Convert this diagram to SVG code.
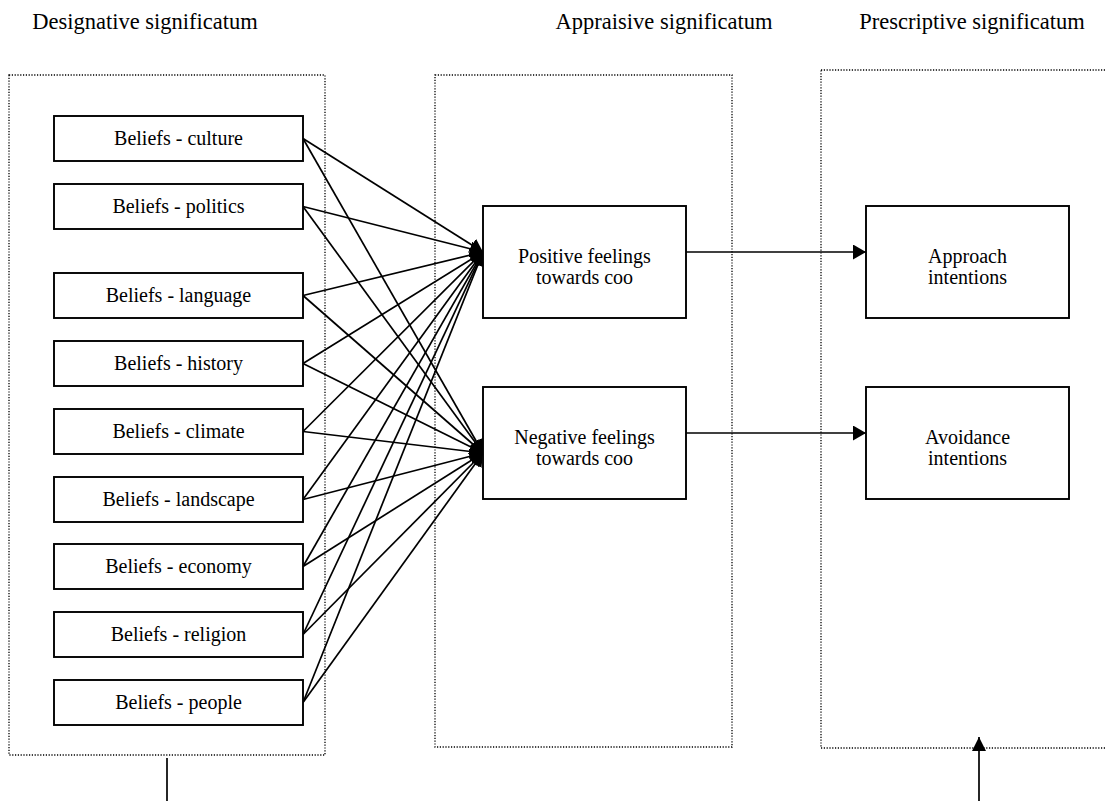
<svg xmlns="http://www.w3.org/2000/svg" width="1105" height="801" viewBox="0 0 1105 801">
  <style>
    text { font-family: "Liberation Serif", "Times New Roman", serif; fill: #000; text-anchor: middle; }
    .title { font-size: 22.5px; }
    .label { font-size: 20px; }
    .node rect { fill: #fff; stroke: #000; stroke-width: 1.9; }
    .zone { fill: none; stroke: #000; stroke-width: 1.3; stroke-dasharray: 1.2 1.6; }
    .link { stroke: #000; stroke-width: 1.7; fill: none; marker-end: url(#head); }
    .plain { stroke: #000; stroke-width: 1.7; fill: none; }
  </style>
  <defs>
    <marker id="head" markerUnits="userSpaceOnUse" markerWidth="14" markerHeight="15" refX="13" refY="7.5" orient="auto">
      <path d="M0,0 L13,7.5 L0,15 z" fill="#000"/>
    </marker>
    <marker id="headUp" markerUnits="userSpaceOnUse" markerWidth="15" markerHeight="15" refX="14" refY="7" orient="auto">
      <path d="M0,0 L14,7 L0,14 z" fill="#000"/>
    </marker>
  </defs>

  <rect width="1105" height="801" fill="#fff"/>

  <!-- column headings -->
  <g id="headings">
    <text class="title" x="145" y="29">Designative significatum</text>
    <text class="title" x="664" y="29">Appraisive significatum</text>
    <text class="title" x="972" y="29">Prescriptive significatum</text>
  </g>

  <!-- dotted column frames -->
  <g id="frames">
    <rect class="zone" x="9" y="75" width="316" height="680"/>
    <rect class="zone" x="435" y="75" width="297" height="672"/>
    <rect class="zone" x="821" y="70" width="300" height="678"/>
  </g>

  <!-- connectors -->
  <g id="connectors">
    <!-- beliefs to positive feelings -->
    <line class="link" x1="303" y1="138.5" x2="483" y2="252"/>
    <line class="link" x1="303" y1="206.5" x2="483" y2="252"/>
    <line class="link" x1="303" y1="295.5" x2="483" y2="252"/>
    <line class="link" x1="303" y1="363.5" x2="483" y2="252"/>
    <line class="link" x1="303" y1="431.5" x2="483" y2="252"/>
    <line class="link" x1="303" y1="499.5" x2="483" y2="252"/>
    <line class="link" x1="303" y1="566.5" x2="483" y2="252"/>
    <line class="link" x1="303" y1="634.5" x2="483" y2="252"/>
    <line class="link" x1="303" y1="702.5" x2="483" y2="252"/>
    <!-- beliefs to negative feelings -->
    <line class="link" x1="303" y1="138.5" x2="483" y2="453"/>
    <line class="link" x1="303" y1="206.5" x2="483" y2="453"/>
    <line class="link" x1="303" y1="295.5" x2="483" y2="453"/>
    <line class="link" x1="303" y1="363.5" x2="483" y2="453"/>
    <line class="link" x1="303" y1="431.5" x2="483" y2="453"/>
    <line class="link" x1="303" y1="499.5" x2="483" y2="453"/>
    <line class="link" x1="303" y1="566.5" x2="483" y2="453"/>
    <line class="link" x1="303" y1="634.5" x2="483" y2="453"/>
    <line class="link" x1="303" y1="702.5" x2="483" y2="453"/>
    <!-- feelings to intentions -->
    <line class="link" x1="686" y1="252" x2="866" y2="252"/>
    <line class="link" x1="686" y1="433" x2="866" y2="433"/>
    <!-- lines below the frames -->
    <line class="plain" x1="167" y1="758" x2="167" y2="801"/>
    <line class="link" x1="979" y1="801" x2="979" y2="737" style="marker-end: url(#headUp)"/>
  </g>

  <!-- belief nodes -->
  <g id="beliefs-culture" class="node">
    <rect x="54" y="116" width="249" height="45"/>
    <text class="label" x="178.5" y="145">Beliefs - culture</text>
  </g>
  <g id="beliefs-politics" class="node">
    <rect x="54" y="184" width="249" height="45"/>
    <text class="label" x="178.5" y="213">Beliefs - politics</text>
  </g>
  <g id="beliefs-language" class="node">
    <rect x="54" y="273" width="249" height="45"/>
    <text class="label" x="178.5" y="302">Beliefs - language</text>
  </g>
  <g id="beliefs-history" class="node">
    <rect x="54" y="341" width="249" height="45"/>
    <text class="label" x="178.5" y="370">Beliefs - history</text>
  </g>
  <g id="beliefs-climate" class="node">
    <rect x="54" y="409" width="249" height="45"/>
    <text class="label" x="178.5" y="438">Beliefs - climate</text>
  </g>
  <g id="beliefs-landscape" class="node">
    <rect x="54" y="477" width="249" height="45"/>
    <text class="label" x="178.5" y="506">Beliefs - landscape</text>
  </g>
  <g id="beliefs-economy" class="node">
    <rect x="54" y="544" width="249" height="45"/>
    <text class="label" x="178.5" y="573">Beliefs - economy</text>
  </g>
  <g id="beliefs-religion" class="node">
    <rect x="54" y="612" width="249" height="45"/>
    <text class="label" x="178.5" y="641">Beliefs - religion</text>
  </g>
  <g id="beliefs-people" class="node">
    <rect x="54" y="680" width="249" height="45"/>
    <text class="label" x="178.5" y="709">Beliefs - people</text>
  </g>

  <!-- feeling nodes -->
  <g id="positive-feelings" class="node">
    <rect x="483" y="206" width="203" height="112"/>
    <text class="label" x="584.5" y="263">Positive feelings</text>
    <text class="label" x="584.5" y="284">towards coo</text>
  </g>
  <g id="negative-feelings" class="node">
    <rect x="483" y="387" width="203" height="112"/>
    <text class="label" x="584.5" y="444">Negative feelings</text>
    <text class="label" x="584.5" y="465">towards coo</text>
  </g>

  <!-- intention nodes -->
  <g id="approach-intentions" class="node">
    <rect x="866" y="206" width="203" height="112"/>
    <text class="label" x="967.5" y="263">Approach</text>
    <text class="label" x="967.5" y="284">intentions</text>
  </g>
  <g id="avoidance-intentions" class="node">
    <rect x="866" y="387" width="203" height="112"/>
    <text class="label" x="967.5" y="444">Avoidance</text>
    <text class="label" x="967.5" y="465">intentions</text>
  </g>
</svg>
